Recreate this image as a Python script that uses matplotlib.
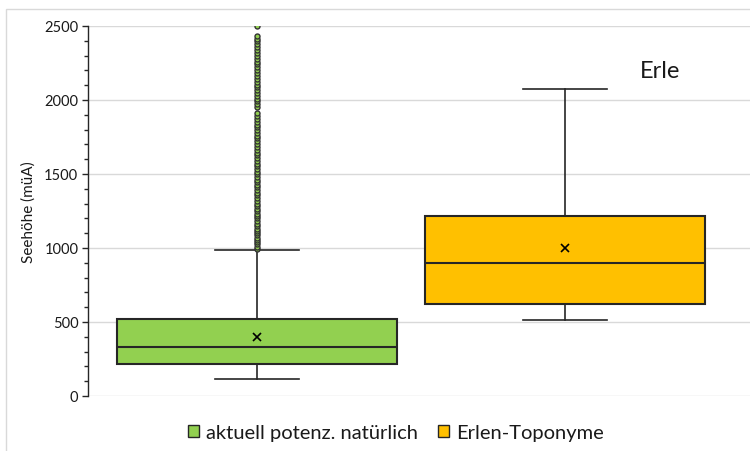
import matplotlib
matplotlib.use("Agg")
import matplotlib.pyplot as plt
from matplotlib.patches import Patch, Rectangle
from matplotlib.ticker import MultipleLocator

plt.rcParams['font.family'] = ['Lato', 'DejaVu Sans']

series = ["aktuell potenz. natürlich", "Erlen-Toponyme"]
colors = ["#92D050", "#FFC000"]
q1 = [216, 622]
median = [331, 899]
q3 = [520, 1216]
whisker_low = [115, 514]
whisker_high = [986, 2074]
mean = [400, 1000]
outliers_green = [995, 1010, 1025, 1040, 1055, 1070, 1085, 1100, 1115, 1130, 1150, 1165,
                  1180, 1200, 1215, 1230, 1250, 1265, 1285, 1300, 1320, 1335, 1355, 1370,
                  1390, 1410, 1425, 1445, 1460, 1480, 1500, 1515, 1535, 1555, 1570, 1590,
                  1610, 1625, 1645, 1665, 1680, 1700, 1720, 1740, 1755, 1775, 1795, 1815,
                  1830, 1850, 1870, 1890, 1910, 1950, 1970, 1990, 2010, 2025, 2045, 2065,
                  2085, 2100, 2120, 2140, 2160, 2180, 2200, 2220, 2240, 2260, 2280, 2300,
                  2320, 2340, 2360, 2380, 2400, 2415, 2430, 2500]
outliers = [outliers_green, []]

fig = plt.figure(figsize=(7.5, 4.52), dpi=100)
fig.patches.append(Rectangle((6 / 750, -0.1), 1.2, 1 - 10 / 452 + 0.1, transform=fig.transFigure,
                             fill=False, edgecolor="#d9d9d9", linewidth=1.0))

ax = fig.add_axes([88 / 750, (452 - 397) / 452, 1 - 88 / 750, 370 / 452])

stats = []
for i in range(2):
    stats.append(dict(med=median[i], q1=q1[i], q3=q3[i], whislo=whisker_low[i],
                      whishi=whisker_high[i], mean=mean[i], fliers=outliers[i], label=series[i]))

positions = [1, 2]
bp = ax.bxp(stats, positions=positions, widths=0.909, patch_artist=True, showmeans=True,
            showfliers=True,
            boxprops=dict(edgecolor="#262626", linewidth=1.5),
            medianprops=dict(color="#262626", linewidth=1.5),
            whiskerprops=dict(color="#262626", linewidth=1.2),
            capprops=dict(color="#262626", linewidth=1.2),
            meanprops=dict(marker="x", markeredgecolor="black", markersize=6, markeredgewidth=1.2),
            flierprops=dict(marker="o", markerfacecolor=colors[0], markeredgecolor="#333333",
                            markersize=3.6, markeredgewidth=1.0))
for box, c in zip(bp['boxes'], colors):
    box.set_facecolor(c)
for cap in bp['caps']:
    x0, x1 = cap.get_xdata()
    cx = (x0 + x1) / 2
    cap.set_xdata([cx - 0.135, cx + 0.135])

ax.set_xlim(1 - 169 / 308, 2 + 185 / 308)
ax.set_ylim(0, 2500)
ax.yaxis.set_major_locator(MultipleLocator(500))
ax.yaxis.set_minor_locator(MultipleLocator(100))
ax.grid(axis='y', color="#d9d9d9", linewidth=1.0)
ax.set_axisbelow(True)
ax.set_xticks([])
for s in ['top', 'right', 'bottom']:
    ax.spines[s].set_visible(False)
ax.spines['left'].set_color("#262626")
ax.spines['left'].set_linewidth(1.0)
ax.tick_params(axis='y', which='major', length=4, width=1, color="#262626",
               labelsize=10.5, labelcolor="#1a1a1a", pad=3)
ax.tick_params(axis='y', which='minor', length=3, width=1, color="#262626")
ax.set_ylabel("Seehöhe (müA)", fontsize=11, color="#1a1a1a", labelpad=6)

fig.text(660 / 750, 1 - 71 / 452, "Erle", fontsize=17, color="#1a1a1a",
         ha="center", va="center")

handles = [Patch(facecolor=c, edgecolor="#262626", linewidth=1.0) for c in colors]
fig.legend(handles, series, loc="center", bbox_to_anchor=(396 / 750, 1 - 434 / 452),
           ncol=2, frameon=False, fontsize=14.5, handlelength=0.55, handleheight=0.55,
           handletextpad=0.35, columnspacing=1.0, labelcolor="#1a1a1a")

fig.savefig("out.png", dpi=100)
